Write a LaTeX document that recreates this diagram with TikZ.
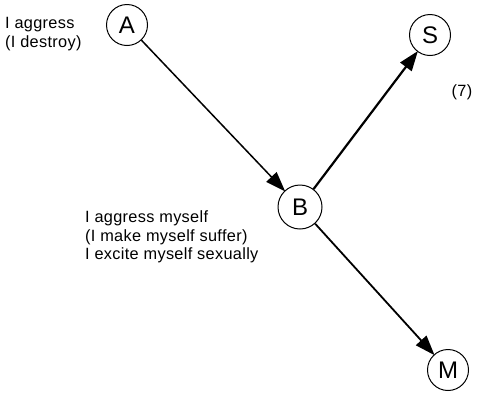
\documentclass[tikz,border=0pt]{standalone}
\usepackage{fontspec}
\setmainfont{Liberation Sans}
\newfontfamily\notefont[LetterSpace=2]{Liberation Sans}
\usetikzlibrary{arrows.meta}
\begin{document}
\begin{tikzpicture}[x=1pt,y=-1pt,
  state/.style={circle,draw,line width=1pt,minimum size=41pt,inner sep=0pt,font=\fontsize{24}{24}\selectfont},
  edge/.style={line width=1.8pt,-{Triangle[length=20pt,width=14pt]},shorten >=-1pt},
  note/.style={align=left,anchor=west,font=\notefont\fontsize{16.3}{18.5}\selectfont,inner sep=0pt}]
\useasboundingbox (0,0) rectangle (481,392);
\node[state] (A) at (127,25) {A};
\node[state] (S) at (430,35) {S};
\node[state,minimum size=44pt] (B) at (300,207) {B};
\node[state] (M) at (448,370) {M};
\draw[edge,line width=1.5pt] (A) -- (B);
\draw[edge,line width=2.2pt] (B) -- (S);
\draw[edge] (B) -- (M);
\node[note] (t1) at (5,34) {I aggress\\(I destroy)};
\node[note] (t2) at (85,237) {I aggress myself\\(I make myself suffer)\\I excite myself sexually};
\node[note,anchor=center] (n7) at (462,92) {(7)};
\end{tikzpicture}
\end{document}
